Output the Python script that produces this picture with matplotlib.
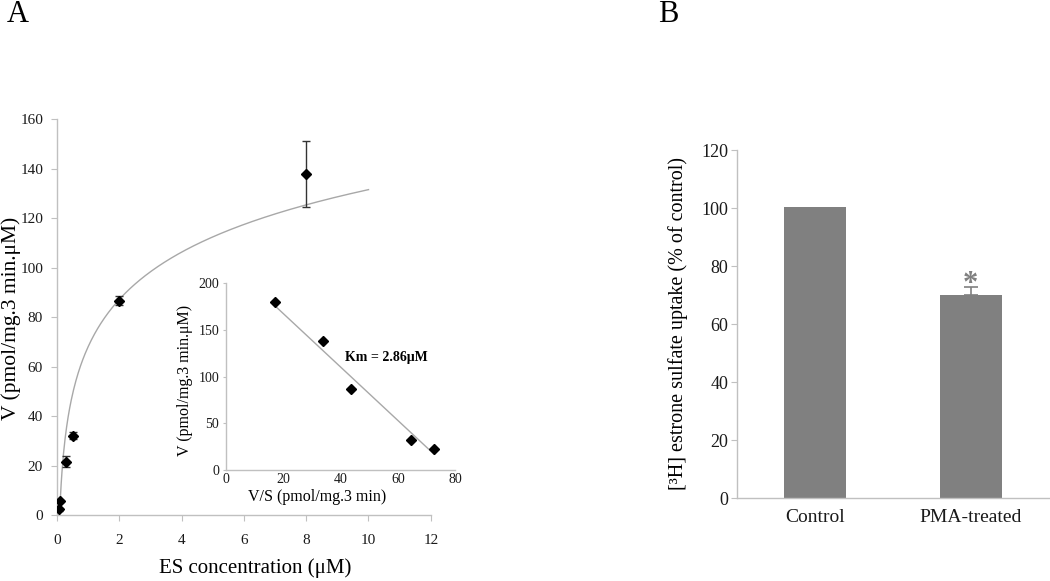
import numpy as np
import matplotlib
matplotlib.use("Agg")
import matplotlib.pyplot as plt

plt.rcParams['font.family'] = ['Liberation Serif', 'DejaVu Serif']

# ---- Panel A data ----
es_conc = [0.05, 0.1, 0.3, 0.5, 2, 8]
velocity = [2.3, 5.7, 21.6, 32.1, 86.7, 137.9]
velocity_err = [0.5, 0.5, 2.2, 1.3, 1.9, 13.4]
a_xticks = [0, 2, 4, 6, 8, 10, 12]
a_yticks = [0, 20, 40, 60, 80, 100, 120, 140, 160]

# ---- Inset (Eadie-Hofstee) data ----
inset_vs = [17.1, 33.8, 43.8, 64.7, 72.7]
inset_v = [180.3, 138.5, 87.1, 31.8, 22.5]
KM = 2.86
inset_xticks = [0, 20, 40, 60, 80]
inset_yticks = [0, 50, 100, 150, 200]

# ---- Panel B data ----
groups = ['Control', 'PMA-treated']
uptake = [100.3, 70.0]
uptake_err = [0.0, 2.7]
b_yticks = [0, 20, 40, 60, 80, 100, 120]

W, H = 1050, 581
fig = plt.figure(figsize=(W / 100, H / 100), dpi=100)

def px_axes(left, right, bottom, top):
    return fig.add_axes([left / W, (H - bottom) / H, (right - left) / W, (bottom - top) / H])

spine_c = '#c0c0c0'
grey = '#808080'

def style(ax, fs, pad_x, pad_y, xtick_len=4, ytick_len=4):
    for s in ['top', 'right']:
        ax.spines[s].set_visible(False)
    for s in ['left', 'bottom']:
        ax.spines[s].set_color(spine_c)
        ax.spines[s].set_linewidth(1.0)
    ax.tick_params(axis='x', colors=spine_c, labelcolor='#1a1a1a', labelsize=fs,
                   length=xtick_len, pad=pad_x, direction='out')
    ax.tick_params(axis='y', colors=spine_c, labelcolor='#1a1a1a', labelsize=fs,
                   length=ytick_len, pad=pad_y, direction='out')

# ---- Panel A main ----
axA = px_axes(57, 430.8, 515, 119.3)
ln_x = np.log(np.array(es_conc))
a_coef, b_coef = np.polyfit(ln_x, np.array(velocity), 1)
x0 = np.exp(-b_coef / a_coef)
xc = np.linspace(x0, 10, 400)
axA.plot(xc, a_coef * np.log(xc) + b_coef, color='#a8a8a8', lw=1.0, zorder=2)
axA.errorbar(es_conc, velocity, yerr=velocity_err, fmt='D', color='black',
             ms=5.5, ecolor='#333333', elinewidth=1.0, capsize=3, capthick=1.0, zorder=3)
axA.set_xlim(0, 12)
axA.set_ylim(0, 160)
axA.set_xticks(a_xticks)
axA.set_yticks(a_yticks)
style(axA, 11, 10, 6)

fig.text(11 / W, 1 - 318 / H, 'V (pmol/mg.3 min.\u03bcM)', rotation=90,
         ha='center', va='center', fontsize=15.5)
fig.text(255 / W, 1 - 568 / H, 'ES concentration (\u03bcM)', ha='center', va='center', fontsize=15)
fig.text(18 / W, 1 - 22 / H, 'A', ha='center', va='baseline', fontsize=22)
fig.text(668 / W, 1 - 22 / H, 'B', ha='center', va='baseline', fontsize=22)

# ---- Inset ----
axI = px_axes(226, 455, 470, 283.3)
axI.patch.set_alpha(0)
vs = np.array(inset_vs)
vv = np.array(inset_v)
intercept = vv.mean() + KM * vs.mean()
xl = np.array([vs.min(), vs.max()])
axI.plot(xl, intercept - KM * xl, color='#a8a8a8', lw=1.0, zorder=2)
axI.plot(inset_vs, inset_v, 'D', color='black', ms=5, zorder=3)
axI.set_xlim(0, 80)
axI.set_ylim(0, 200)
axI.set_xticks(inset_xticks)
axI.set_yticks(inset_yticks)
style(axI, 10, 2, 3, xtick_len=0, ytick_len=2)
axI.text(41.6, 120, 'Km = 2.86\u03bcM', fontsize=10, fontweight='bold', ha='left', va='center')
fig.text(185 / W, 1 - 380 / H, 'V (pmol/mg.3 min.\u03bcM)', rotation=90,
         ha='center', va='center', fontsize=11.5)
fig.text(317 / W, 1 - 497 / H, 'V/S (pmol/mg.3 min)', ha='center', va='center', fontsize=11.5)

# ---- Panel B ----
axB = px_axes(736.7, 1048.7, 498.3, 150)
xpos = np.arange(len(groups))
axB.bar(xpos, uptake, width=0.4, color=grey, zorder=2)
axB.errorbar(xpos[1:], uptake[1:], yerr=[[0], uptake_err[1:]], fmt='none', ecolor=grey,
             elinewidth=1.2, capsize=5, capthick=1.2, zorder=3)
axB.text(xpos[1], uptake[1] + uptake_err[1] - 4.0, '*', color=grey, fontsize=22,
         fontweight='bold', ha='center', va='bottom')
axB.set_xlim(-0.5, 1.5)
axB.set_ylim(0, 120)
axB.set_xticks(xpos)
axB.set_xticklabels(groups)
axB.set_yticks(b_yticks)
style(axB, 13, 8, 2, xtick_len=0, ytick_len=4)
axB.tick_params(axis='x', labelsize=14)
fig.text(678 / W, 1 - 324 / H, '[\u00b3H] estrone sulfate uptake (% of control)', rotation=90,
         ha='center', va='center', fontsize=14.5)

fig.savefig('out.png', dpi=100)
